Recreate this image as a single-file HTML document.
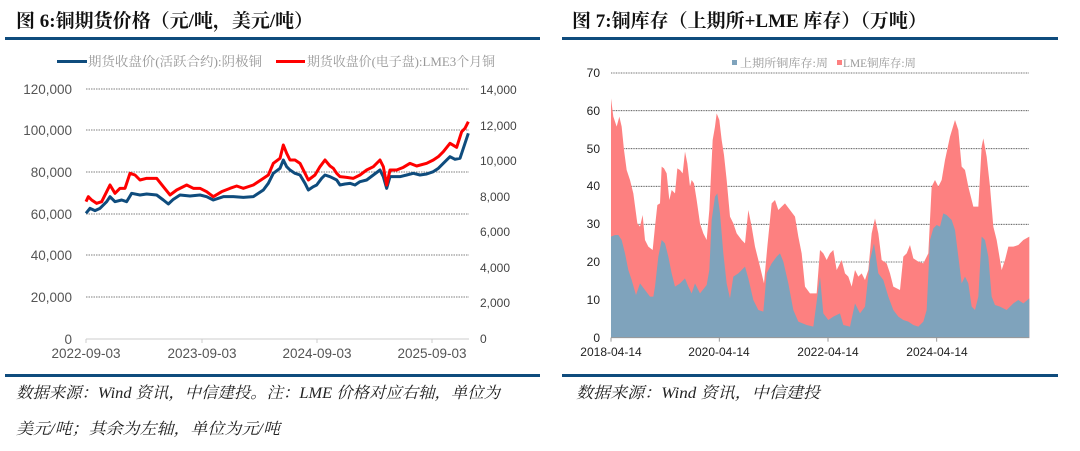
<!DOCTYPE html>
<html><head><meta charset="utf-8"><style>
body{margin:0;background:#fff;width:1080px;height:451px;overflow:hidden}
svg{display:block}
.t{font-family:"Liberation Serif","Noto Serif CJK SC",serif;font-weight:bold;font-size:19px;fill:#111}
.ax{font-family:"Liberation Sans",sans-serif;font-size:13.5px;fill:#555}
.ax2{font-family:"Liberation Sans",sans-serif;font-size:12px;fill:#444}
.lg{font-family:"Liberation Serif","Noto Serif CJK SC",serif;font-size:13px;fill:#999}
.lg2{font-family:"Liberation Serif","Noto Serif CJK SC",serif;font-size:11.5px;fill:#999}
.ft{font-family:"Liberation Serif","Noto Serif CJK SC",serif;font-style:italic;font-size:16px;fill:#222}
</style></head><body>
<svg width="1080" height="451" viewBox="0 0 1080 451">
<text class="t" x="16" y="27">图 6:铜期货价格（元/吨，美元/吨）</text>
<text class="t" x="572" y="27">图 7:铜库存（上期所+LME 库存）（万吨）</text>
<rect x="5" y="37" width="535" height="3" fill="#0f4c7d"/>
<rect x="562" y="37" width="496" height="3" fill="#0f4c7d"/>
<rect x="5" y="374" width="535" height="3" fill="#0f4c7d"/>
<rect x="562" y="374" width="496" height="3" fill="#0f4c7d"/>

<!-- left chart -->
<g stroke="#555" stroke-width="0.7" stroke-dasharray="1.5,1">
<line x1="86" x2="469" y1="89" y2="89"/><line x1="86" x2="469" y1="130" y2="130"/>
<line x1="86" x2="469" y1="172" y2="172"/><line x1="86" x2="469" y1="214" y2="214"/>
<line x1="86" x2="469" y1="255" y2="255"/><line x1="86" x2="469" y1="297" y2="297"/>
</g>
<line x1="86" x2="469" y1="339" y2="339" stroke="#ccc" stroke-width="1"/>
<g stroke="#ccc"><line x1="86" x2="86" y1="339" y2="343"/><line x1="202" x2="202" y1="339" y2="343"/><line x1="317" x2="317" y1="339" y2="343"/><line x1="432" x2="432" y1="339" y2="343"/></g>
<g class="ax" text-anchor="end">
<text x="72" y="94">120,000</text><text x="72" y="135">100,000</text><text x="72" y="177">80,000</text>
<text x="72" y="219">60,000</text><text x="72" y="260">40,000</text><text x="72" y="302">20,000</text><text x="72" y="344">0</text>
</g>
<g class="ax2" text-anchor="start">
<text x="480" y="94">14,000</text><text x="480" y="130">12,000</text><text x="480" y="165">10,000</text>
<text x="480" y="201">8,000</text><text x="480" y="236">6,000</text><text x="480" y="272">4,000</text>
<text x="480" y="307">2,000</text><text x="480" y="343">0</text>
</g>
<g class="ax" text-anchor="middle">
<text x="86" y="358">2022-09-03</text><text x="202" y="358">2023-09-03</text><text x="317" y="358">2024-09-03</text><text x="432" y="358">2025-09-03</text>
</g>
<rect x="57" y="60" width="30" height="3" fill="#0f4c7d"/>
<text class="lg" x="88" y="66" textLength="174" lengthAdjust="spacingAndGlyphs">期货收盘价(活跃合约):阴极铜</text>
<rect x="276" y="60" width="29" height="3" fill="#f00"/>
<text class="lg" x="307" y="66" textLength="188" lengthAdjust="spacingAndGlyphs">期货收盘价(电子盘):LME3个月铜</text>
<g transform="translate(0,60) scale(0.33333)" fill="none" stroke-width="9" stroke-linejoin="round">
<polyline stroke="#0f4c7d" points="258,460 270,445 285,452 300,445 320,425 330,410 345,425 365,420 380,425 395,400 420,405 440,402 470,405 490,420 505,432 520,418 540,405 570,408 600,405 620,410 640,420 670,410 700,410 730,412 760,410 790,390 805,370 820,340 840,325 850,300 860,320 870,330 885,340 900,345 915,370 925,390 940,380 950,375 965,355 975,345 990,350 1000,355 1010,360 1020,375 1035,372 1050,370 1065,375 1080,365 1100,360 1120,345 1140,330 1150,350 1160,385 1170,350 1200,350 1220,345 1240,340 1260,345 1280,342 1300,335 1315,325 1330,310 1350,290 1365,298 1380,295 1395,250 1405,220"/>
<polyline stroke="#f00" points="258,425 265,410 275,420 290,430 305,425 320,395 330,375 345,400 360,385 375,385 390,340 405,345 420,360 440,355 470,355 490,380 510,405 530,390 560,375 580,385 600,385 620,395 640,410 665,395 690,385 710,378 730,385 760,375 790,355 805,345 820,310 840,295 850,255 860,280 870,300 885,300 900,310 915,340 925,360 945,345 960,320 975,300 990,318 1000,325 1010,340 1020,350 1040,352 1060,355 1080,345 1100,330 1120,320 1140,300 1150,320 1160,375 1170,330 1190,330 1210,322 1230,310 1250,318 1280,310 1300,300 1315,290 1330,275 1350,250 1370,262 1385,215 1395,205 1405,185"/>
</g>

<!-- right chart -->
<g transform="translate(560,40) scale(0.33333)">
<g stroke="#444" stroke-width="2.4" stroke-dasharray="3,2">
<line x1="153" x2="1408" y1="99" y2="99"/><line x1="153" x2="1408" y1="212" y2="212"/>
<line x1="153" x2="1408" y1="326" y2="326"/><line x1="153" x2="1408" y1="439" y2="439"/>
<line x1="153" x2="1408" y1="553" y2="553"/><line x1="153" x2="1408" y1="666" y2="666"/>
<line x1="153" x2="1408" y1="780" y2="780"/>
</g>
<polygon fill="#fd8080" points="153,893 153,175 160,230 170,260 178,230 185,260 192,330 200,390 210,420 220,460 232,550 240,560 248,525 255,600 265,620 278,630 285,560 292,495 300,490 305,380 312,385 320,400 328,480 335,450 345,460 352,385 360,390 368,400 375,335 382,370 390,440 395,420 402,430 410,480 420,550 430,580 440,600 448,510 458,300 465,260 470,220 478,240 485,300 492,345 500,420 510,530 520,550 530,580 545,600 555,610 565,510 575,560 585,620 600,680 612,730 622,620 635,490 645,480 655,510 665,500 675,490 690,510 705,530 715,590 725,640 735,740 750,760 770,760 780,630 790,640 800,660 810,640 820,630 830,690 845,660 855,700 865,710 875,740 885,690 895,710 905,700 915,720 925,690 935,580 945,535 955,580 965,660 980,670 990,700 1000,740 1020,750 1030,650 1040,640 1050,615 1060,655 1075,665 1090,670 1105,640 1115,440 1125,420 1135,440 1145,420 1155,360 1170,290 1185,240 1195,270 1205,380 1215,390 1225,440 1240,500 1255,500 1265,320 1270,295 1280,350 1290,440 1300,560 1310,600 1325,690 1335,660 1345,620 1360,620 1375,615 1390,600 1408,590 1408,893"/>
<polygon fill="#7fa3bc" points="153,893 153,590 165,585 175,585 185,600 195,640 205,690 215,720 228,765 240,730 255,750 270,770 280,770 285,740 295,650 305,600 315,610 325,650 335,700 345,740 360,730 375,715 385,740 395,760 405,730 420,760 440,735 448,690 455,540 465,470 472,460 480,520 490,640 500,730 510,775 520,710 535,700 545,690 555,680 565,715 580,780 595,810 610,815 620,700 635,670 650,650 660,640 670,665 685,730 700,810 715,845 740,855 760,860 780,710 790,820 805,840 820,830 840,820 850,855 870,860 885,790 900,820 915,800 930,660 942,610 955,700 970,720 985,770 1000,810 1015,830 1030,840 1045,845 1060,855 1075,860 1090,845 1100,810 1110,600 1120,565 1130,555 1140,560 1150,520 1160,525 1175,540 1185,570 1195,650 1205,730 1215,710 1225,730 1235,800 1245,810 1255,770 1265,590 1275,600 1285,650 1295,770 1305,795 1320,800 1340,810 1360,790 1375,780 1390,790 1408,775 1408,893"/>
<line x1="153" x2="1408" y1="893" y2="893" stroke="#999" stroke-width="3"/>
<line x1="153" x2="153" y1="893" y2="905" stroke="#999" stroke-width="3"/>
<line x1="478" x2="478" y1="893" y2="905" stroke="#999" stroke-width="3"/>
<line x1="804" x2="804" y1="893" y2="905" stroke="#999" stroke-width="3"/>
<line x1="1130" x2="1130" y1="893" y2="905" stroke="#999" stroke-width="3"/>
</g>
<g class="ax2" text-anchor="end" style="fill:#222">
<text x="600" y="77">70</text><text x="600" y="115">60</text><text x="600" y="153">50</text>
<text x="600" y="190">40</text><text x="600" y="228">30</text><text x="600" y="266">20</text>
<text x="600" y="304">10</text><text x="600" y="342">0</text>
</g>
<g class="ax2" text-anchor="middle" style="fill:#222">
<text x="611" y="356">2018-04-14</text><text x="719" y="356">2020-04-14</text><text x="828" y="356">2022-04-14</text><text x="937" y="356">2024-04-14</text>
</g>
<rect x="732" y="60" width="5" height="5" fill="#7fa3bc"/>
<text class="lg2" x="740" y="67" textLength="88" lengthAdjust="spacingAndGlyphs">上期所铜库存:周</text>
<rect x="837" y="60" width="5" height="5" fill="#fd8080"/>
<text class="lg2" x="843" y="67" textLength="73" lengthAdjust="spacingAndGlyphs">LME铜库存:周</text>

<text class="ft" x="16" y="398" textLength="484" lengthAdjust="spacingAndGlyphs">数据来源：Wind 资讯，中信建投。注：LME 价格对应右轴，单位为</text>
<text class="ft" x="16" y="434" textLength="264" lengthAdjust="spacingAndGlyphs">美元/吨；其余为左轴，单位为元/吨</text>
<text class="ft" x="576" y="398" textLength="244" lengthAdjust="spacingAndGlyphs">数据来源：Wind 资讯，中信建投</text>
</svg>
</body></html>
